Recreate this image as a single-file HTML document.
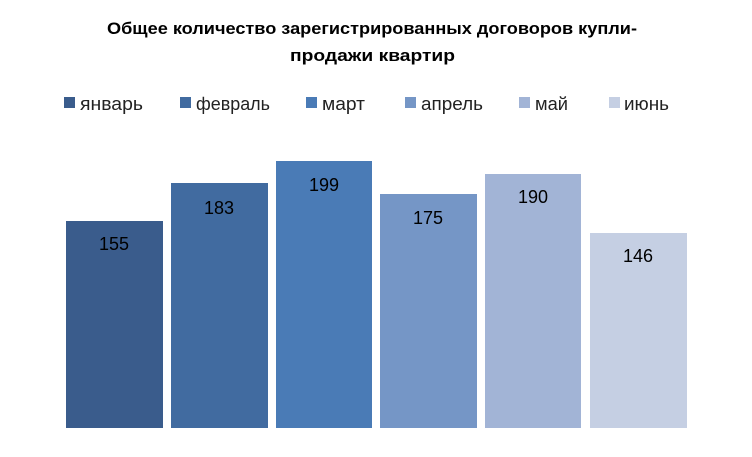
<!DOCTYPE html>
<html><head><meta charset="utf-8"><style>
body{margin:0;background:#fff;}
svg text{font-family:"Liberation Sans","DejaVu Sans",sans-serif;}
</style></head><body>
<svg width="752" height="452" xmlns="http://www.w3.org/2000/svg">
<rect width="752" height="452" fill="#fff"/>
<text x="107" y="34" font-size="17" font-weight="bold" fill="#000" textLength="530" lengthAdjust="spacingAndGlyphs">Общее количество зарегистрированных договоров купли-</text>
<text x="290" y="61" font-size="17" font-weight="bold" fill="#000" textLength="165" lengthAdjust="spacingAndGlyphs">продажи квартир</text>
<g font-size="18" fill="#222">
<rect x="64" y="97" width="11" height="11" fill="#3a5c8c"/><text x="80" y="110" textLength="63" lengthAdjust="spacingAndGlyphs">январь</text>
<rect x="180" y="97" width="11" height="11" fill="#416ba0"/><text x="196" y="110" textLength="74" lengthAdjust="spacingAndGlyphs">февраль</text>
<rect x="306" y="97" width="11" height="11" fill="#4a7bb6"/><text x="322" y="110" textLength="43" lengthAdjust="spacingAndGlyphs">март</text>
<rect x="405" y="97" width="11" height="11" fill="#7596c6"/><text x="421" y="110" textLength="62" lengthAdjust="spacingAndGlyphs">апрель</text>
<rect x="519" y="97" width="11" height="11" fill="#a2b4d6"/><text x="535" y="110" textLength="33" lengthAdjust="spacingAndGlyphs">май</text>
<rect x="609" y="97" width="11" height="11" fill="#c5cfe3"/><text x="624" y="110" textLength="45" lengthAdjust="spacingAndGlyphs">июнь</text>
</g>
<g>
<rect x="66" y="221" width="97" height="207" fill="#3a5c8c"/>
<rect x="171" y="183" width="97" height="245" fill="#416ba0"/>
<rect x="276" y="161" width="96" height="267" fill="#4a7bb6"/>
<rect x="380" y="194" width="97" height="234" fill="#7596c6"/>
<rect x="485" y="174" width="96" height="254" fill="#a2b4d6"/>
<rect x="590" y="233" width="97" height="195" fill="#c5cfe3"/>
</g>
<g font-size="18" fill="#000" text-anchor="middle">
<text x="114" y="250">155</text>
<text x="219" y="214">183</text>
<text x="324" y="191">199</text>
<text x="428" y="224">175</text>
<text x="533" y="203">190</text>
<text x="638" y="262">146</text>
</g>
</svg>
</body></html>
